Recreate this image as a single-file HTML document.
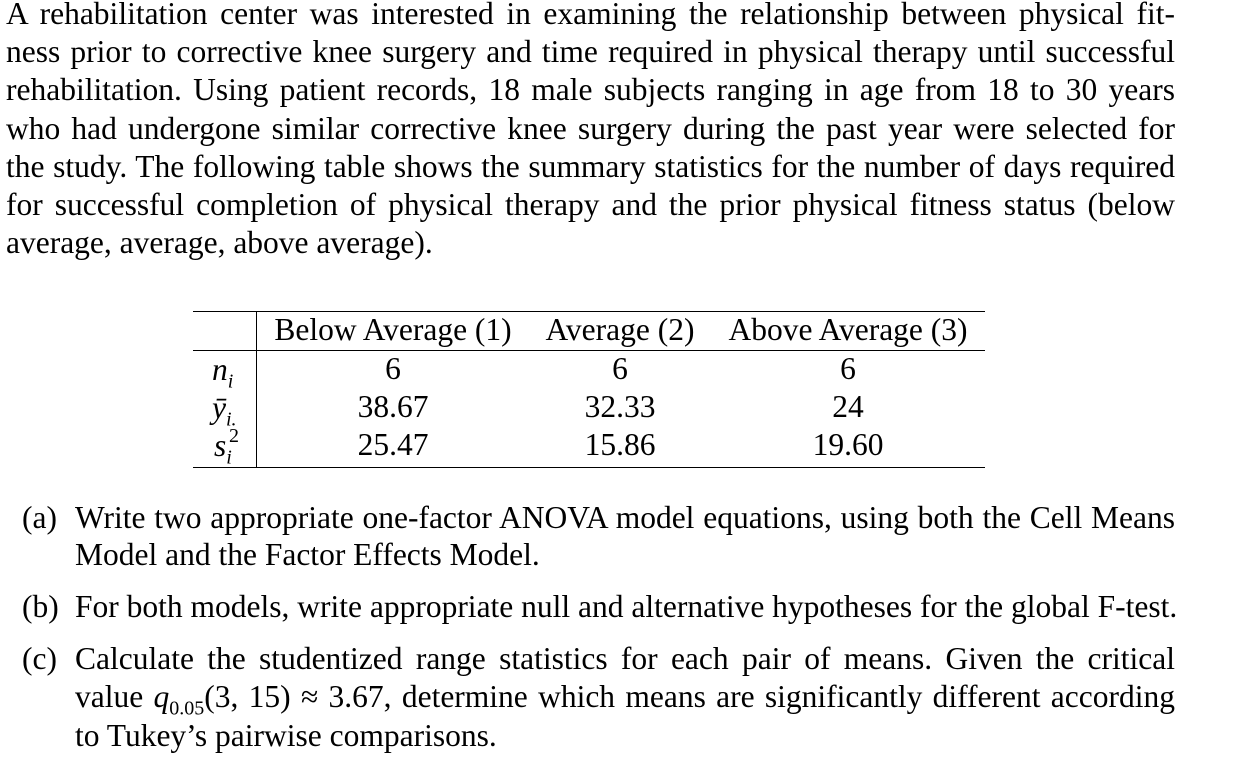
<!DOCTYPE html>
<html><head><meta charset="utf-8"><style>
body{margin:0;width:1249px;height:763px;background:#fff;position:relative;overflow:hidden;font-family:"Liberation Serif",serif;font-size:31.5px;color:#000}
.l{position:absolute;line-height:31px;white-space:nowrap}
.j{text-align:justify;text-align-last:justify;white-space:normal}
.r{position:absolute;background:#000;height:1.3px}
.c{position:absolute;width:280px;text-align:center;line-height:31px;white-space:nowrap}
i{font-style:italic}
sub{font-size:20px;line-height:0}
</style></head><body>
<div>
<div class="l j" style="left:6px;top:-2px;width:1169px">A rehabilitation center was interested in examining the relationship between physical fit-</div>
<div class="l j" style="left:6px;top:36px;width:1169px">ness prior to corrective knee surgery and time required in physical therapy until successful</div>
<div class="l j" style="left:6px;top:74px;width:1169px">rehabilitation. Using patient records, 18 male subjects ranging in age from 18 to 30 years</div>
<div class="l j" style="left:6px;top:113px;width:1169px">who had undergone similar corrective knee surgery during the past year were selected for</div>
<div class="l j" style="left:6px;top:151px;width:1169px">the study. The following table shows the summary statistics for the number of days required</div>
<div class="l j" style="left:6px;top:189px;width:1169px">for successful completion of physical therapy and the prior physical fitness status (below</div>
<div class="l" style="left:6px;top:227px">average, average, above average).</div>
</div>
<div>
<div class="r" style="left:193px;top:311px;width:792px"></div>
<div class="r" style="left:193px;top:350px;width:792px"></div>
<div class="r" style="left:193px;top:467px;width:792px"></div>
<div style="position:absolute;left:256px;top:311px;width:1.3px;height:156px;background:#000"></div>
<div class="c" style="left:253px;top:314px">Below Average (1)</div>
<div class="c" style="left:480px;top:314px">Average (2)</div>
<div class="c" style="left:708px;top:314px">Above Average (3)</div>
<div class="l" style="left:212px;top:354px"><i>n<sub>i</sub></i></div>
<div class="l" style="left:212px;top:392px"><i>ȳ<sub>i.</sub></i></div>
<div class="l" style="left:214px;top:430px"><i>s<sub>i</sub></i><span style="position:absolute;left:15px;top:-9px;font-size:20px">2</span></div>
<div class="c" style="left:253px;top:353px">6</div><div class="c" style="left:480px;top:353px">6</div><div class="c" style="left:708px;top:353px">6</div>
<div class="c" style="left:253px;top:391px">38.67</div><div class="c" style="left:480px;top:391px">32.33</div><div class="c" style="left:708px;top:391px">24</div>
<div class="c" style="left:253px;top:429px">25.47</div><div class="c" style="left:480px;top:429px">15.86</div><div class="c" style="left:708px;top:429px">19.60</div>
</div>
<div>
<div class="l" style="left:22px;top:502px">(a)</div>
<div class="l j" style="left:75px;top:502px;width:1100px">Write two appropriate one-factor ANOVA model equations, using both the Cell Means</div>
<div class="l" style="left:75px;top:539px">Model and the Factor Effects Model.</div>
<div class="l" style="left:22px;top:591px">(b)</div>
<div class="l" style="left:75px;top:591px">For both models, write appropriate null and alternative hypotheses for the global F-test.</div>
<div class="l" style="left:22px;top:643px">(c)</div>
<div class="l j" style="left:75px;top:643px;width:1100px">Calculate the studentized range statistics for each pair of means. Given the critical</div>
<div class="l j" style="left:75px;top:681px;width:1100px">value <span><i>q</i><sub>0.05</sub>(3,&nbsp;15)&nbsp;≈&nbsp;3.67,</span> determine which means are significantly different according</div>
<div class="l" style="left:75px;top:720px">to Tukey’s pairwise comparisons.</div>
</div>
</body></html>
